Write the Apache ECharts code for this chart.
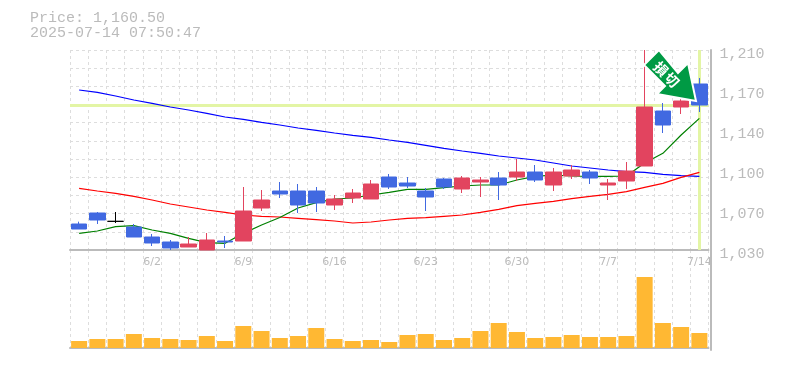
<!DOCTYPE html>
<html><head><meta charset="utf-8">
<style>html,body{margin:0;padding:0;background:#fff}#c{width:785px;height:370px}</style>
<script src="https://cdn.jsdelivr.net/npm/echarts@6/dist/echarts.min.js"></script>
</head><body><div id="c"></div>
<script>
const titleText = "Price: 1,160.50\n2025-07-14 07:50:47";
const lastPrice = 1160.5;
const categories = ["5/27","5/28","5/29","5/30","6/2","6/3","6/4","6/5","6/6","6/9","6/10","6/11","6/12","6/13","6/16","6/17","6/18","6/19","6/20","6/23","6/24","6/25","6/26","6/27","6/30","7/1","7/2","7/3","7/4","7/7","7/8","7/9","7/10","7/11","7/14"];
// open, close, low, high
const candles = [
[1053.4,1048.9,1048.9,1055.5],[1063.3,1057,1053.4,1064.2],[1055.8,1055.8,1054.3,1064.2],[1050.7,1041.7,1041.7,1053.4],
[1041.7,1036.3,1033.6,1044.4],[1037.2,1031.8,1030,1039],[1032.7,1035.4,1032.7,1041.7],[1030,1039,1030,1045.3],
[1038.1,1037.2,1031.8,1042.6],[1038.1,1065.1,1038.1,1086.7],[1067.8,1075,1065.1,1084],[1083.1,1080.4,1076.8,1091.2],
[1083.1,1070.5,1063.3,1089.4],[1083.1,1072.3,1064.2,1086.7],[1070.5,1075.9,1066,1079.5],[1076.8,1081.3,1072.3,1084.9],
[1075.9,1089.4,1075.9,1093],[1095.7,1086.7,1084.9,1098.4],[1090.3,1087.6,1085.8,1095.7],[1083.1,1077.7,1065.1,1085.8],
[1093.9,1086.7,1084.9,1094.8],[1084.9,1094.8,1081.3,1096.6],[1091.2,1093,1077.7,1095.7],[1094.8,1088.5,1075,1100.2],
[1095.7,1100.2,1092.1,1111.9],[1100.2,1093,1091.2,1106.5],[1088.5,1100.2,1083.1,1103.8],[1096.6,1102,1093.9,1106.5],
[1100.2,1094.8,1089.4,1102],[1088.5,1090.3,1075,1093.9],[1092.1,1101.1,1084.9,1109.2],[1105.6,1158.7,1105.6,1210],
[1155.1,1142.5,1135.3,1162.3],[1158.7,1164.1,1152.4,1169.5],[1179.4,1160.5,1154.2,1184.8]];
const maShort = [1045,1047.1,1051,1051.9,1048,1045,1040.5,1036.6,1036,1045,1052.5,1059.3,1067.8,1072.6,1075.9,1076.8,1079.5,1081.9,1084.6,1084.6,1086.1,1087.6,1088.5,1088.5,1093,1096.3,1097.5,1096.6,1096.3,1096.3,1096.6,1108.3,1117,1133.5,1148.5];
const maMid = [1085.5,1083.1,1080.9,1078.2,1075,1071.4,1068.7,1066,1063.8,1061.5,1060.3,1059.7,1058.5,1057.3,1056.1,1054.3,1055.2,1057,1058.5,1059.1,1060.3,1061.5,1063.9,1066.6,1069.9,1072,1073.8,1076.2,1078.3,1080.1,1082.5,1086.4,1090,1095.4,1099.9];
const maLong = [1174,1171.8,1168.6,1165,1161.9,1158.7,1156,1152.9,1149.7,1147.5,1144.8,1142.5,1139.8,1137.6,1135.3,1133.1,1131.3,1129,1126.8,1124.1,1121.4,1119.1,1116.9,1114.6,1112.8,1111,1108.3,1105.6,1103.8,1102,1100.5,1099.9,1098.1,1096.9,1096.3];
const volumes = [7,9,9,14,10,9,8,12,7,22,17,10,12,20,9,7,8,6,13,14,8,10,17,25,16,10,11,13,11,11,12,71,25,21,15];
const priceTickValues = [1030,1066,1102,1138,1174,1210];
const priceTickLabels = ["1,030","1,070","1,100","1,140","1,170","1,210"];
const shownDates = ["6/2","6/9","6/16","6/23","6/30","7/7","7/14"];
const arrowWords = ["損","切"];

const GRAY = "#bbbbbb", GRID = "#dddddd";
const MONO = '"Liberation Mono", monospace';
const splitDash = {show:true, lineStyle:{color:GRID, width:1, type:[3,3]}};
const chart = echarts.init(document.getElementById("c"), null, {renderer:"canvas"});
chart.setOption({
  animation:false,
  backgroundColor:"#ffffff",
  title:{text:titleText, left:30, top:11, padding:0, textStyle:{fontFamily:MONO, fontSize:15, fontWeight:"normal", color:GRAY, lineHeight:15}},
  grid:[{left:70, right:76.5, top:50, height:200},{left:70, right:76.5, top:250, height:100}],
  xAxis:[
    {type:"category", gridIndex:0, data:categories, boundaryGap:true,
     axisLine:{lineStyle:{color:GRAY,width:2}}, axisTick:{show:false},
     axisLabel:{interval:(i,v)=>shownDates.includes(v), color:GRAY, fontFamily:"DejaVu Sans", fontSize:11, margin:7},
     splitLine:Object.assign({interval:0},splitDash)},
    {type:"category", gridIndex:1, data:categories, boundaryGap:true,
     axisLine:{lineStyle:{color:GRAY,width:2}}, axisTick:{show:false}, axisLabel:{show:false},
     splitLine:Object.assign({interval:0},splitDash)}
  ],
  yAxis:[
    {type:"value", gridIndex:0, position:"right", offset:2, min:1030, max:1210,
     axisLine:{show:true,lineStyle:{color:GRAY,width:2}}, axisTick:{show:false}, splitLine:{show:false},
     axisLabel:{customValues:priceTickValues, color:GRAY, fontFamily:MONO, fontSize:15, margin:9, verticalAlign:"top", lineHeight:8,
       formatter:v=>priceTickLabels[priceTickValues.indexOf(v)]}},
    {type:"value", gridIndex:0, position:"left", min:0, max:11, interval:1,
     axisLine:{show:false}, axisTick:{show:false}, axisLabel:{show:false}, splitLine:splitDash},
    {type:"value", gridIndex:1, position:"right", offset:2, min:-2, max:98,
     axisLine:{show:true,lineStyle:{color:GRAY,width:2}}, axisTick:{show:false}, axisLabel:{show:false}, splitLine:{show:false}}
  ],
  series:[
    {type:"line", xAxisIndex:0, yAxisIndex:0, data:[], z:1, silent:true,
     markLine:{silent:true, z:1, symbol:"none", label:{show:false}, animation:false,
       lineStyle:{color:"#e3f5a5", width:3, type:"solid"},
       data:[{yAxis:lastPrice},{xAxis:categories[categories.length-1]}]}},
    {type:"line", xAxisIndex:0, yAxisIndex:0, data:maLong, showSymbol:false, symbol:"none", z:2, lineStyle:{color:"#0000ff",width:1.2}},
    {type:"line", xAxisIndex:0, yAxisIndex:0, data:maMid, showSymbol:false, symbol:"none", z:2, lineStyle:{color:"#ff0000",width:1.2}},
    {type:"line", xAxisIndex:0, yAxisIndex:0, data:maShort, showSymbol:false, symbol:"none", z:2, lineStyle:{color:"#008000",width:1.2}},
    {type:"candlestick", xAxisIndex:0, yAxisIndex:0, data:candles, barWidth:16, z:3,
     itemStyle:{color:"#e2445f", borderColor:"#e2445f", color0:"#4169e1", borderColor0:"#4169e1", borderColorDoji:"#000000", borderWidth:1}},
    {type:"bar", xAxisIndex:1, yAxisIndex:2, data:volumes, barWidth:16, itemStyle:{color:"#ffb833"}, z:3}
  ],
  graphic:[
    {type:"polygon", z:100, shape:{points:[[659,50],[644,65],[665,86],[657,94],[696,101],[688,63],[678,73]]},
     style:{fill:"#009a44", stroke:"#ffffff", lineWidth:2}},
    {type:"text", z:101, x:661, y:69, rotation:-Math.PI/4, style:{text:arrowWords[0], fill:"#fff", font:'bold 14px "Noto Sans CJK JP"', align:"center", verticalAlign:"middle"}},
    {type:"text", z:101, x:672, y:80, rotation:-Math.PI/4, style:{text:arrowWords[1], fill:"#fff", font:'bold 14px "Noto Sans CJK JP"', align:"center", verticalAlign:"middle"}}
  ]
});
</script></body></html>
